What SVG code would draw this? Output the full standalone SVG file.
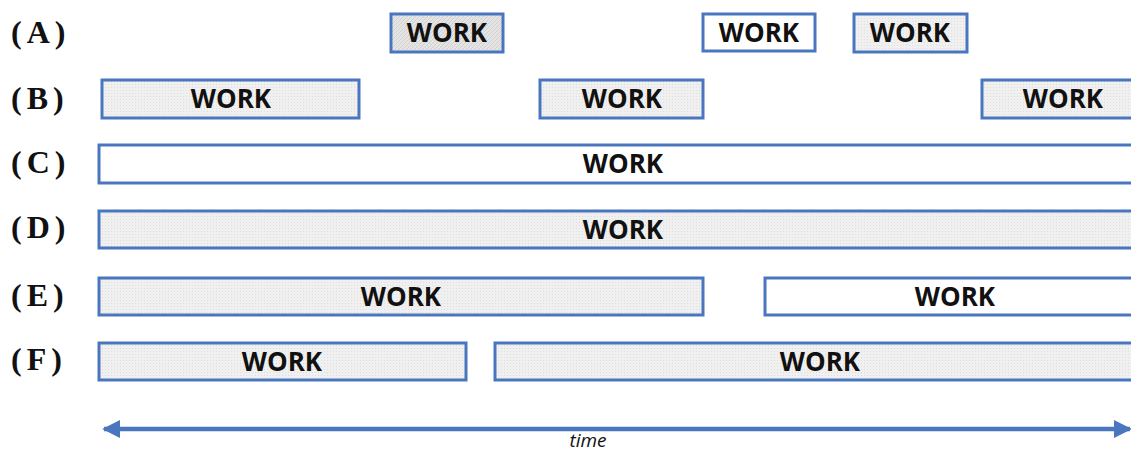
<svg xmlns="http://www.w3.org/2000/svg" width="1131" height="451" viewBox="0 0 1131 451">
  <style>
    .lbl { font-family: "Liberation Serif", "Times New Roman", serif; font-weight: bold; font-size: 32px; fill: #111; letter-spacing: 5px; }
    .box { stroke: #4a76c0; stroke-width: 3; }
    .grey { fill: url(#dots); }
    .dark { fill: url(#hatch); }
    .white { fill: #ffffff; }
    .work { font-family: "Open Sans", "Liberation Sans", sans-serif; font-weight: bold; font-size: 26px; fill: #111; text-anchor: middle; }
    .time { font-family: "Open Sans", "Liberation Sans", sans-serif; font-style: italic; font-size: 19px; fill: #111; text-anchor: middle; }
    .axis { stroke: #4a76c0; stroke-width: 4.5; fill: none; }
  </style>
  <defs>
    <pattern id="dots" width="3" height="3" patternUnits="userSpaceOnUse">
      <rect width="3" height="3" fill="#f0f0f0"/>
      <rect width="1" height="1" fill="#dedede"/>
    </pattern>
    <pattern id="hatch" width="4" height="4" patternUnits="userSpaceOnUse">
      <rect width="4" height="4" fill="#e4e4e4"/>
      <path d="M0 4 L4 0" stroke="#d0d0d0" stroke-width="1"/>
    </pattern>
    <marker id="head" viewBox="0 0 10 10" refX="9" refY="5" markerWidth="4" markerHeight="4" orient="auto-start-reverse" markerUnits="strokeWidth">
      <path d="M0 0 L10 5 L0 10 Z" fill="#4a76c0"/>
    </marker>
  </defs>

  <!-- row labels -->
  <g id="labels">
    <text class="lbl" x="11" y="43">(A)</text>
    <text class="lbl" x="11" y="109">(B)</text>
    <text class="lbl" x="11" y="173">(C)</text>
    <text class="lbl" x="11" y="238">(D)</text>
    <text class="lbl" x="11" y="306">(E)</text>
    <text class="lbl" x="11" y="370">(F)</text>
  </g>

  <!-- row A -->
  <g id="a1"><rect class="box dark" x="391" y="14" width="112" height="38"/><text class="work" x="447" y="42">WORK</text></g>
  <g id="a2"><rect class="box white" x="703" y="14" width="112" height="37"/><text class="work" x="759" y="42">WORK</text></g>
  <g id="a3"><rect class="box grey" x="854" y="14" width="113" height="38"/><text class="work" x="910" y="42">WORK</text></g>

  <!-- row B -->
  <g id="b1"><rect class="box grey" x="102" y="80" width="257" height="38"/><text class="work" x="231" y="108">WORK</text></g>
  <g id="b2"><rect class="box grey" x="540" y="80" width="163" height="38"/><text class="work" x="622" y="108">WORK</text></g>
  <g id="b3"><rect class="box grey" x="982" y="80" width="166" height="38"/><text class="work" x="1063" y="108">WORK</text></g>

  <!-- row C -->
  <g id="c1"><rect class="box white" x="99" y="145" width="1050" height="38"/><text class="work" x="623" y="173">WORK</text></g>

  <!-- row D -->
  <g id="d1"><rect class="box grey" x="99" y="211" width="1050" height="37"/><text class="work" x="623" y="239">WORK</text></g>

  <!-- row E -->
  <g id="e1"><rect class="box grey" x="99" y="278" width="604" height="37"/><text class="work" x="401" y="306">WORK</text></g>
  <g id="e2"><rect class="box white" x="765" y="278" width="384" height="37"/><text class="work" x="955" y="306">WORK</text></g>

  <!-- row F -->
  <g id="f1"><rect class="box grey" x="99" y="343" width="367" height="37"/><text class="work" x="282" y="371">WORK</text></g>
  <g id="f2"><rect class="box grey" x="495" y="343" width="654" height="37"/><text class="work" x="820" y="371">WORK</text></g>

  <!-- time axis -->
  <g id="connectors">
    <line class="axis" x1="104" y1="429" x2="1130" y2="429" marker-start="url(#head)" marker-end="url(#head)"/>
  </g>
  <text class="time" x="588" y="447">time</text>
</svg>
